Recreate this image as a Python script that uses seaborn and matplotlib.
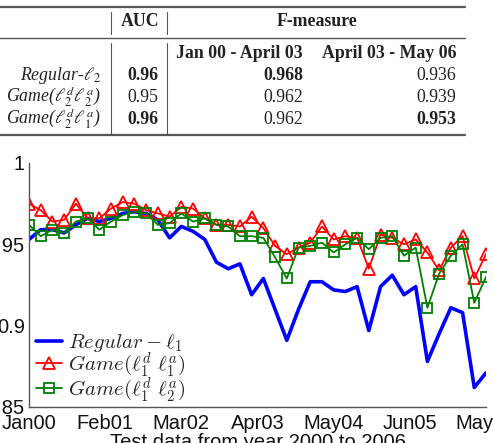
import numpy as np
import pandas as pd
import seaborn as sns
import matplotlib
matplotlib.use("Agg")
import matplotlib.pyplot as plt
from matplotlib.lines import Line2D

# ---------------- data ----------------
tick_labels = ["Jan00", "Feb01", "Mar02", "Apr03", "May04", "Jun05", "May06"]
tick_pos = [0, 6.5, 13, 19.5, 26, 32.5, 39]

regular_l1 = [0.953, 0.959, 0.959, 0.957, 0.962, 0.966, 0.964, 0.966, 0.969, 0.970,
              0.969, 0.965, 0.954, 0.961, 0.958, 0.953, 0.939, 0.935, 0.938, 0.919,
              0.929, 0.910, 0.891, 0.910, 0.927, 0.927, 0.922, 0.921, 0.924, 0.897,
              0.924, 0.931, 0.919, 0.924, 0.878, 0.895, 0.911, 0.908, 0.862, 0.871]
game_l1_l1 = [0.975, 0.971, 0.964, 0.965, 0.975, 0.966, 0.966, 0.972, 0.976, 0.975,
              0.971, 0.969, 0.967, 0.973, 0.972, 0.966, 0.962, 0.962, 0.961, 0.967,
              0.960, 0.949, 0.944, 0.948, 0.951, 0.961, 0.953, 0.955, 0.954, 0.935,
              0.956, 0.954, 0.950, 0.953, 0.945, 0.934, 0.948, 0.955, 0.929, 0.944]
game_l1_l2 = [0.962, 0.955, 0.959, 0.957, 0.964, 0.966, 0.959, 0.964, 0.968, 0.970,
              0.969, 0.962, 0.963, 0.969, 0.964, 0.966, 0.962, 0.961, 0.955, 0.955,
              0.954, 0.942, 0.929, 0.948, 0.949, 0.951, 0.945, 0.950, 0.954, 0.947,
              0.954, 0.955, 0.943, 0.948, 0.911, 0.932, 0.943, 0.950, 0.914, 0.930]

series_labels = [r"$Regular-\ell_1$", r"$Game(\ell_1^d\ \ell_1^a)$", r"$Game(\ell_1^d\ \ell_2^a)$"]

table_rows = ["Regular-$\\ell_2$", "Game($\\ell_2^d\\ell_2^a$)", "Game($\\ell_2^d\\ell_1^a$)"]
auc_vals = ["0.96", "0.95", "0.96"]
f1_vals = ["0.968", "0.962", "0.962"]
f2_vals = ["0.936", "0.939", "0.953"]
auc_bold = [True, False, True]
f1_bold = [True, False, False]
f2_bold = [False, False, True]

# ---------------- figure ----------------
sns.set_style("white")
W, H = 493, 443
fig = plt.figure(figsize=(W / 100, H / 100), dpi=100)

def fx(x):
    return x / W

def fy(y):
    return 1 - y / H

# ---- table drawn as text ----
tcol = "#222222"
rcol = "#555555"
tfont = dict(family="Liberation Serif", fontsize=12.8, color=tcol)

def hline(y, x0, x1, lw):
    fig.add_artist(Line2D([fx(x0), fx(x1)], [fy(y), fy(y)], transform=fig.transFigure,
                          color=rcol, lw=lw))

def vline(x, y0, y1):
    fig.add_artist(Line2D([fx(x), fx(x)], [fy(y0), fy(y1)], transform=fig.transFigure,
                          color=rcol, lw=0.8))

hline(7, 0, 465, 1.6)
hline(38, 0, 465, 1.0)
hline(135, 0, 465, 1.6)
for vx in (111, 167):
    vline(vx, 12, 34)
    vline(vx, 43, 134)

fig.text(fx(140), fy(22), "AUC", ha="center", va="center", weight="bold", **tfont)
fig.text(fx(317), fy(22), "F-measure", ha="center", va="center", weight="bold", **tfont)
fig.text(fx(303), fy(53), "Jan 00 - April 03", ha="right", va="center", weight="bold", **tfont)
fig.text(fx(456), fy(53), "April 03 - May 06", ha="right", va="center", weight="bold", **tfont)

row_y = [76, 97, 119]
for i, ry in enumerate(row_y):
    fig.text(fx(101), fy(ry), table_rows[i], ha="right", va="center", style="italic",
             math_fontfamily="stix", **tfont)
    fig.text(fx(158), fy(ry), auc_vals[i], ha="right", va="center",
             weight="bold" if auc_bold[i] else "normal", **tfont)
    fig.text(fx(303), fy(ry), f1_vals[i], ha="right", va="center",
             weight="bold" if f1_bold[i] else "normal", **tfont)
    fig.text(fx(456), fy(ry), f2_vals[i], ha="right", va="center",
             weight="bold" if f2_bold[i] else "normal", **tfont)

# ---- line chart ----
ax = fig.add_axes([fx(29), fy(407), (486 - 29) / W, (407 - 163) / H])
x = np.arange(len(regular_l1))

sns.lineplot(x=x, y=regular_l1, ax=ax, color="#0000ff", lw=2.6, label=series_labels[0])
sns.lineplot(x=x, y=game_l1_l1, ax=ax, color="#ff0000", lw=1.3, marker="^",
             markersize=9, markerfacecolor="none", markeredgecolor="#ff0000",
             markeredgewidth=1.3, label=series_labels[1])
sns.lineplot(x=x, y=game_l1_l2, ax=ax, color="#008000", lw=1.3, marker="s",
             markersize=6.5, markerfacecolor="none", markeredgecolor="#008000",
             markeredgewidth=1.3, label=series_labels[2])

ax.set_xlim(0, 39)
ax.set_ylim(0.85, 1.0)
ax.set_xticks(tick_pos)
ax.set_xticklabels(tick_labels)
ax.set_yticks([0.85, 0.9, 0.95, 1.0])
ax.set_yticklabels(["0.85", "0.9", "0.95", "1"])
tickfont = "Liberation Sans"
for lab in ax.get_xticklabels() + ax.get_yticklabels():
    lab.set_fontfamily(tickfont)
    lab.set_fontsize(14.5)
    lab.set_color("#111111")
ax.tick_params(axis="both", direction="in", length=4, width=0.8, color="#555555")
ax.tick_params(axis="x", pad=5)
ax.tick_params(axis="y", pad=3)
for s in ("top", "right"):
    ax.spines[s].set_visible(False)
for s in ("left", "bottom"):
    ax.spines[s].set_color("#555555")
    ax.spines[s].set_linewidth(1.0)

ax.set_xlabel("Test data from year 2000 to 2006", fontfamily=tickfont, fontsize=14.5,
              color="#111111")
ax.xaxis.set_label_coords(0.5, -0.105)
ax.set_ylabel("")

leg = ax.legend(loc="lower left", bbox_to_anchor=(0.015, 0.012), frameon=False,
                prop=dict(size=15, math_fontfamily="cm"), handlelength=1.25,
                handletextpad=0.3, labelspacing=-0.18, borderpad=0, borderaxespad=0)
for t in leg.get_texts():
    t.set_math_fontfamily("cm")

fig.savefig("out.png", dpi=100)
